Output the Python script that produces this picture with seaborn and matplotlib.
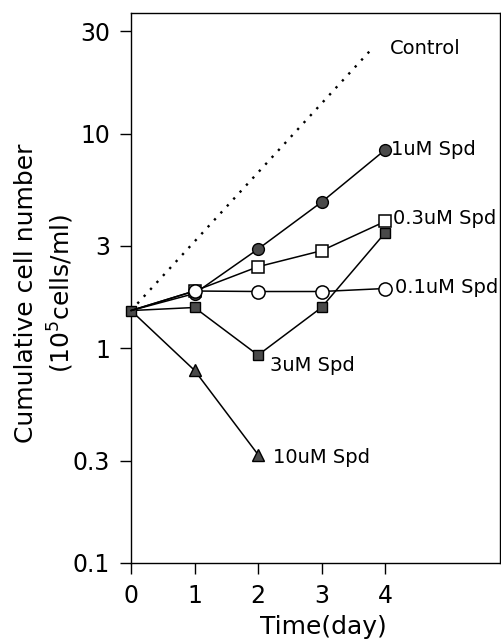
import matplotlib
matplotlib.use("Agg")
import matplotlib.pyplot as plt
import seaborn as sns
from matplotlib.ticker import FixedLocator, FixedFormatter, NullLocator

sns.set_style("ticks")
plt.rcParams["font.family"] = ["DejaVu Sans"]
plt.rcParams["text.color"] = "black"
plt.rcParams["axes.labelcolor"] = "black"

# Cumulative cell number (10^5 cells/ml) by day for each spermidine dose
days = [0, 1, 2, 3, 4]
spd_1um = [1.5, 1.8, 2.9, 4.8, 8.4]
spd_03um = [1.5, 1.85, 2.4, 2.85, 3.9]
spd_01um = [1.5, 1.85, 1.84, 1.84, 1.9]
spd_3um = [1.5, 1.55, 0.93, 1.55, 3.45]
days_10um = [0, 1, 2]
spd_10um = [1.5, 0.79, 0.32]
control_days = [0, 3.8]
control = [1.5, 25]

x_ticks = [0, 1, 2, 3, 4]
y_ticks = [0.1, 0.3, 1, 3, 10, 30]
y_tick_labels = ["0.1", "0.3", "1", "3", "10", "30"]

fig = plt.figure(figsize=(5.02, 6.43), dpi=100)
ax = fig.add_axes([131 / 502, 1 - 563 / 643, 369 / 502, 550 / 643])
ax.set_yscale("log")

dark = "#4a4a4a"
line_kw = dict(color="black", linewidth=1.1, clip_on=False)

# Control: dotted reference line
sns.lineplot(x=control_days, y=control, ax=ax, color="black", linewidth=1.7,
             linestyle=(0, (1, 3)), zorder=2)

sns.lineplot(x=days_10um, y=spd_10um, ax=ax, marker="^", markersize=9,
             markerfacecolor=dark, markeredgecolor="black", markeredgewidth=1,
             markevery=[1, 2], zorder=3, **line_kw)
sns.lineplot(x=days, y=spd_3um, ax=ax, marker="s", markersize=7.5,
             markerfacecolor=dark, markeredgecolor="black", markeredgewidth=1,
             zorder=3, **line_kw)
sns.lineplot(x=days, y=spd_1um, ax=ax, marker="o", markersize=8.5,
             markerfacecolor=dark, markeredgecolor="black", markeredgewidth=1,
             markevery=[1, 2, 3, 4], zorder=4, **line_kw)
sns.lineplot(x=days, y=spd_03um, ax=ax, marker="s", markersize=9,
             markerfacecolor="white", markeredgecolor="black", markeredgewidth=1.1,
             markevery=[1, 2, 3, 4], zorder=5, **line_kw)
sns.lineplot(x=days, y=spd_01um, ax=ax, marker="o", markersize=9.5,
             markerfacecolor="white", markeredgecolor="black", markeredgewidth=1.1,
             markevery=[1, 2, 3, 4], zorder=6, **line_kw)

label_font = dict(fontsize=14, va="center", ha="left", color="black")
ax.text(control_days[-1] + 0.28, control[-1], "Control", **label_font)
ax.text(days[-1] + 0.1, spd_1um[-1] * 1.01, "1uM Spd", **label_font)
ax.text(days[-1] + 0.12, spd_03um[-1] * 1.03, "0.3uM Spd", **label_font)
ax.text(days[-1] + 0.15, spd_01um[-1] * 1.01, "0.1uM Spd", **label_font)
ax.text(days[2] + 0.19, spd_3um[2] * 0.89, "3uM Spd", **label_font)
ax.text(days_10um[-1] + 0.24, spd_10um[-1] * 0.97, "10uM Spd", **label_font)

ax.set_xlim(0, 5.81)
ax.set_ylim(0.1, 36.5)
ax.xaxis.set_major_locator(FixedLocator(x_ticks))
ax.yaxis.set_major_locator(FixedLocator(y_ticks))
ax.yaxis.set_major_formatter(FixedFormatter(y_tick_labels))
ax.yaxis.set_minor_locator(NullLocator())
ax.tick_params(axis="both", direction="out", length=8, width=1,
               labelsize=17, pad=7, color="black", labelcolor="black")

for side in ["left", "bottom", "top", "right"]:
    ax.spines[side].set_color("black")
    ax.spines[side].set_linewidth(1)

ax.set_xlabel("Time(day)", fontsize=18, color="black")
ax.xaxis.set_label_coords(0.522, -0.094)
ax.set_ylabel("Cumulative cell number\n(10$^5$cells/ml)", fontsize=18,
              color="black", linespacing=1.35, multialignment="center")
ax.yaxis.set_label_coords(-0.148, 0.49)

fig.savefig("out.png", dpi=100, facecolor="white")
